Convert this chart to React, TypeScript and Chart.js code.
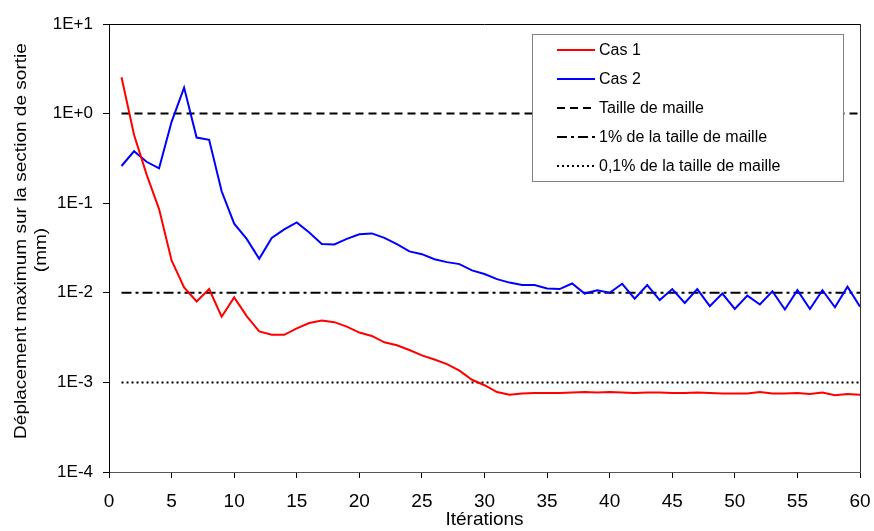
import React, { useEffect, useRef } from "react";
import { Chart, registerables } from "chart.js";

Chart.register(...registerables);

const iterations = [
  1, 2, 3, 4, 5, 6, 7, 8, 9, 10, 11, 12, 13, 14, 15, 16, 17, 18, 19, 20,
  21, 22, 23, 24, 25, 26, 27, 28, 29, 30, 31, 32, 33, 34, 35, 36, 37, 38, 39, 40,
  41, 42, 43, 44, 45, 46, 47, 48, 49, 50, 51, 52, 53, 54, 55, 56, 57, 58, 59, 60,
];

const cas1 = [
  2.55, 0.58, 0.21, 0.086, 0.023, 0.0115, 0.008, 0.011, 0.0054, 0.0089,
  0.0055, 0.0037, 0.0034, 0.0034, 0.004, 0.0046, 0.0049, 0.0047, 0.0042, 0.0036,
  0.0033, 0.0028, 0.0026, 0.0023, 0.002, 0.0018, 0.0016, 0.00135, 0.00107, 0.00093,
  0.00078, 0.00073, 0.00075, 0.00076, 0.00076, 0.00076, 0.00077, 0.00078, 0.00077, 0.00078,
  0.00077, 0.00076, 0.00077, 0.00077, 0.00076, 0.00076, 0.00077, 0.00076, 0.00075, 0.00075,
  0.00075, 0.00078, 0.00075, 0.00075, 0.00076, 0.00074, 0.00077, 0.00072, 0.00074, 0.00073,
];

const cas2 = [
  0.26, 0.38, 0.29, 0.245, 0.81, 1.95, 0.54, 0.51, 0.136, 0.059,
  0.04, 0.024, 0.041, 0.051, 0.061, 0.047, 0.035, 0.0347, 0.04, 0.045,
  0.046, 0.041, 0.035, 0.029, 0.027, 0.0237, 0.022, 0.0209, 0.0178, 0.0162,
  0.0142, 0.013, 0.0122, 0.0122, 0.0112, 0.011, 0.0127, 0.0098, 0.0107, 0.01,
  0.0126, 0.0086, 0.0122, 0.0083, 0.011, 0.0077, 0.011, 0.0071, 0.0098, 0.0066,
  0.0093, 0.0074, 0.0104, 0.0065, 0.0107, 0.0066, 0.0107, 0.0069, 0.0117, 0.007,
];

const refX = [1, 60];
const tailleMaille = [1, 1];
const unPourcent = [0.01, 0.01];
const zeroUnPourcent = [0.001, 0.001];

const seriesLabels = [
  "Cas 1",
  "Cas 2",
  "Taille de maille",
  "1% de la taille de maille",
  "0,1% de la taille de maille",
];

const yTickValues = [0.0001, 0.001, 0.01, 0.1, 1, 10];
const yTickLabels = ["1E-4", "1E-3", "1E-2", "1E-1", "1E+0", "1E+1"];

const xTitle = "Itérations";
const yTitle = ["Déplacement maximum sur la section de sortie", "(mm)"];

const FONT = "'Liberation Sans', Arial, sans-serif";

const toPts = (xs: number[], ys: number[]) => xs.map((x, i) => ({ x, y: ys[i] }));

const framePlugin = {
  id: "frameAndLegend",
  afterDatasetsDraw(chart: any) {
    const { ctx, chartArea } = chart;
    ctx.save();
    // top & right frame
    ctx.strokeStyle = "#000";
    ctx.lineWidth = 1;
    ctx.beginPath();
    ctx.moveTo(chartArea.left, chartArea.top + 0.5);
    ctx.lineTo(chartArea.right, chartArea.top + 0.5);
    ctx.stroke();
    ctx.strokeStyle = "#333";
    ctx.beginPath();
    ctx.moveTo(chartArea.right + 0.5, chartArea.top);
    ctx.lineTo(chartArea.right + 0.5, chartArea.bottom);
    ctx.stroke();

    // legend
    const bx = 532, by = 34, bw = 311, bh = 147;
    ctx.fillStyle = "#fff";
    ctx.fillRect(bx, by, bw, bh);
    ctx.strokeStyle = "#808080";
    ctx.lineWidth = 1;
    ctx.strokeRect(bx + 0.5, by + 0.5, bw, bh);
    ctx.font = `16px ${FONT}`;
    ctx.textBaseline = "middle";
    ctx.textAlign = "left";
    chart.data.datasets.forEach((ds: any, i: number) => {
      const y = 50 + i * 29;
      ctx.strokeStyle = ds.borderColor;
      ctx.lineWidth = 2;
      ctx.setLineDash(ds.borderDash || []);
      ctx.beginPath();
      ctx.moveTo(557, y);
      ctx.lineTo(595, y);
      ctx.stroke();
      ctx.setLineDash([]);
      ctx.fillStyle = "#000";
      ctx.fillText(ds.label, 599, y + 1);
    });

    // y axis title (stretched along its length like the original)
    ctx.fillStyle = "#000";
    ctx.font = `16px ${FONT}`;
    ctx.textAlign = "center";
    ctx.textBaseline = "middle";
    const titlePos = [
      { x: 22, y: 241 },
      { x: 42, y: 250 },
    ];
    yTitle.forEach((t, i) => {
      ctx.save();
      ctx.translate(titlePos[i].x, titlePos[i].y);
      ctx.rotate(-Math.PI / 2);
      ctx.scale(1.19, 1);
      ctx.fillText(t, 0, 0);
      ctx.restore();
    });
    ctx.restore();
  },
};

export default function App() {
  const ref = useRef<HTMLCanvasElement>(null);

  useEffect(() => {
    if (!ref.current) return;
    const chart = new Chart(ref.current, {
      type: "line",
      data: {
        datasets: [
          {
            label: seriesLabels[0],
            data: toPts(iterations, cas1),
            borderColor: "#ff0000",
            borderWidth: 2,
            pointRadius: 0,
            tension: 0,
          },
          {
            label: seriesLabels[1],
            data: toPts(iterations, cas2),
            borderColor: "#0000ff",
            borderWidth: 2,
            pointRadius: 0,
            tension: 0,
          },
          {
            label: seriesLabels[2],
            data: toPts(refX, tailleMaille),
            borderColor: "#000",
            borderWidth: 2,
            borderDash: [8, 5],
            pointRadius: 0,
          },
          {
            label: seriesLabels[3],
            data: toPts(refX, unPourcent),
            borderColor: "#000",
            borderWidth: 2,
            borderDash: [10, 4, 3, 4],
            pointRadius: 0,
          },
          {
            label: seriesLabels[4],
            data: toPts(refX, zeroUnPourcent),
            borderColor: "#000",
            borderWidth: 2,
            borderDash: [2, 3],
            pointRadius: 0,
          },
        ],
      },
      options: {
        animation: false,
        responsive: false,
        events: [],
        layout: { padding: { top: 24, right: 14, left: 0, bottom: 0 } },
        plugins: {
          legend: { display: false },
          tooltip: { enabled: false },
        },
        scales: {
          x: {
            type: "linear",
            min: 0,
            max: 60,
            afterFit: (s: any) => {
              s.height = 59;
              s.paddingLeft = 0;
              s.paddingRight = 0;
            },
            ticks: {
              stepSize: 5,
              color: "#000",
              font: { family: FONT, size: 19 },
              padding: 12,
              maxRotation: 0,
            },
            grid: {
              drawOnChartArea: false,
              drawTicks: true,
              tickLength: 6,
              color: "#000",
            },
            border: { color: "#555", width: 1 },
            title: {
              display: true,
              text: xTitle,
              color: "#000",
              font: { family: FONT, size: 19 },
              padding: { top: 0, bottom: 0 },
            },
          },
          y: {
            type: "logarithmic",
            min: 0.0001,
            max: 10,
            afterFit: (s: any) => {
              s.width = 109;
              s.paddingTop = 0;
              s.paddingBottom = 0;
            },
            afterBuildTicks: (s: any) => {
              s.ticks = yTickValues.map((v) => ({ value: v, major: true }));
            },
            ticks: {
              color: "#000",
              font: { family: FONT, size: 17 },
              padding: 10,
              callback: (v: any) => {
                const idx = yTickValues.findIndex((t) => Math.abs(t - Number(v)) / t < 1e-6);
                return idx >= 0 ? yTickLabels[idx] : "";
              },
            },
            grid: {
              drawOnChartArea: false,
              drawTicks: true,
              tickLength: 6,
              color: "#000",
            },
            border: { color: "#000", width: 1 },
            title: { display: false },
          },
        },
      },
      plugins: [framePlugin],
    } as any);
    return () => chart.destroy();
  }, []);

  return (
    <div style={{ position: "absolute", left: 0, top: 0, width: 874, height: 531, background: "#fff" }}>
      <canvas ref={ref} width={874} height={531} />
    </div>
  );
}
